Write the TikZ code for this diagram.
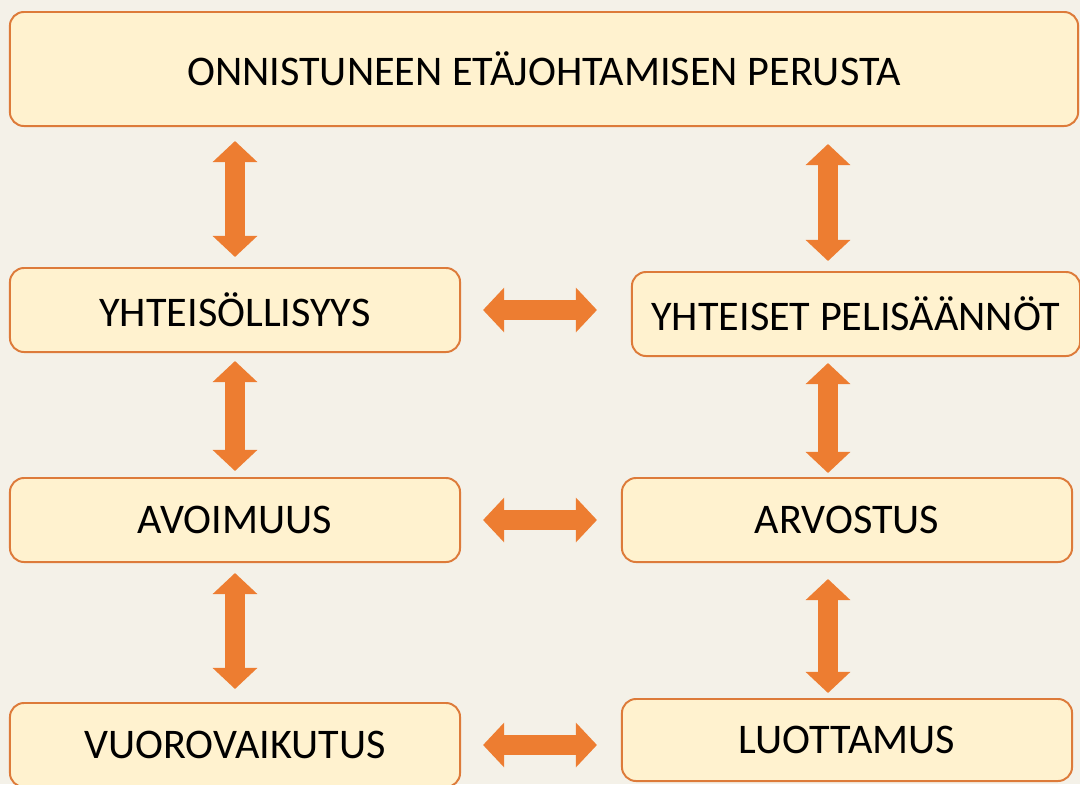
\documentclass[tikz,border=0pt]{standalone}
\usepackage{fontspec}
\setmainfont{Carlito}
\usetikzlibrary{arrows.meta,calc}
\definecolor{bgCream}{HTML}{F4F1E8}
\definecolor{boxFill}{HTML}{FFF2CF}
\definecolor{boxLine}{HTML}{DD7B3A}
\definecolor{arrowOrange}{HTML}{ED7D31}
\begin{document}
\begin{tikzpicture}[x=0.025cm,y=-0.025cm,
    box/.style={draw=boxLine, line width=1.4pt, fill=boxFill, rounded corners=10pt,
      inner sep=0pt, font=\fontsize{30}{36}\selectfont, text=black},
    dblarrow/.style={arrowOrange, line width=14pt,
      {Triangle[width=31pt,length=15pt]}-{Triangle[width=31pt,length=15pt]}}]
  % --- canvas ---
  \clip (0,0) rectangle (1080,784);
  \fill[bgCream] (0,0) rectangle (1080,784);
  % --- boxes ---
  \node[box, minimum width=26.7cm, minimum height=2.85cm] (top) at (544,69)
    {ONNISTUNEEN ETÄJOHTAMISEN PERUSTA};
  \node[box, minimum width=11.25cm, minimum height=2.1cm] (yht) at (235,310) {YHTEISÖLLISYYS};
  \node[box, minimum width=11.2cm, minimum height=2.1cm] (pel) at (856,314) {YHTEISET PELISÄÄNNÖT};
  \node[box, minimum width=11.25cm, minimum height=2.1cm] (avo) at (235,520) {AVOIMUUS};
  \node[box, minimum width=11.25cm, minimum height=2.1cm] (arv) at (847,520) {ARVOSTUS};
  \node[box, minimum width=11.25cm, minimum height=2.1cm] (vuo) at (235,745) {VUOROVAIKUTUS};
  \node[box, minimum width=11.25cm, minimum height=2.05cm] (luo) at (847,740) {LUOTTAMUS};
  % --- columns of the vertical arrows ---
  \coordinate (colL) at (235,0);
  \coordinate (colR) at (828,0);
  % --- vertical arrows ---
  \draw[dblarrow, shorten <=0.35cm, shorten >=0.25cm] (top.south -| colL) -- (yht.north -| colL);
  \draw[dblarrow, shorten <=0.425cm, shorten >=0.25cm] (top.south -| colR) -- (pel.north -| colR);
  \draw[dblarrow, shorten <=0.2cm, shorten >=0.15cm] (yht.south -| colL) -- (avo.north -| colL);
  \draw[dblarrow, shorten <=0.15cm, shorten >=0.1cm] (pel.south -| colR) -- (arv.north -| colR);
  \draw[dblarrow, shorten <=0.25cm, shorten >=0.325cm] (avo.south -| colL) -- (vuo.north -| colL);
  \draw[dblarrow, shorten <=0.4cm, shorten >=0.125cm] (arv.south -| colR) -- (luo.north -| colR);
  % --- horizontal arrows ---
  \draw[dblarrow, shorten <=0.55cm, shorten >=0.85cm] (yht.east) -- (yht.east -| pel.west);
  \draw[dblarrow, shorten <=0.55cm, shorten >=0.6cm] (avo.east) -- (avo.east -| arv.west);
  \draw[dblarrow, shorten <=0.55cm, shorten >=0.6cm] (vuo.east) -- (vuo.east -| luo.west);
\end{tikzpicture}
\end{document}
